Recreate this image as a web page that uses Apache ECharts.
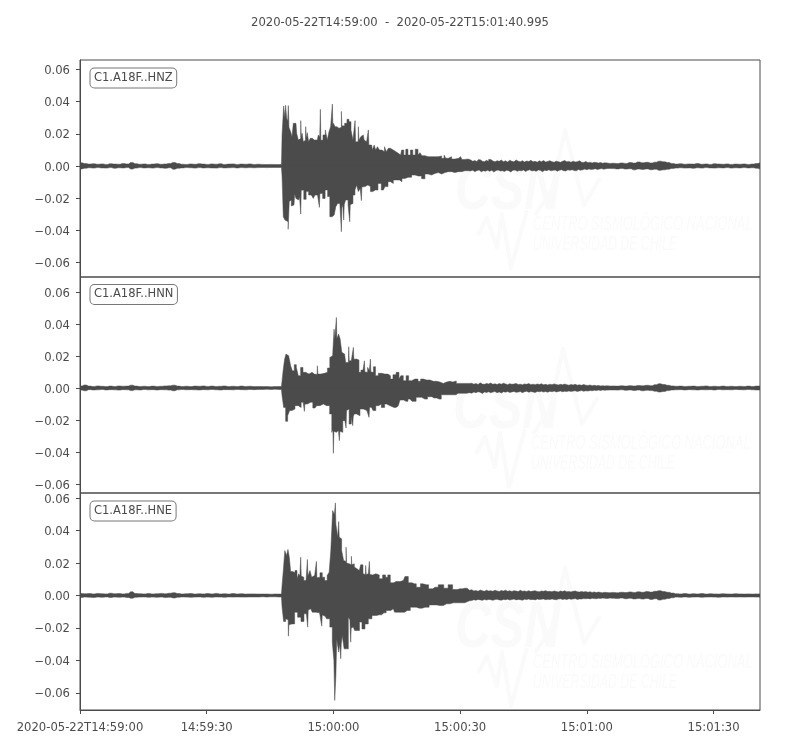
<!DOCTYPE html>
<html><head><meta charset="utf-8">
<style>html,body{margin:0;padding:0;background:#fff}#c{width:800px;height:750px}</style>
<script src="https://cdn.jsdelivr.net/npm/echarts@6/dist/echarts.min.js"></script>
</head><body><div id="c"></div>
<script>
const channels = ['C1.A18F..HNZ','C1.A18F..HNN','C1.A18F..HNE'];
const titleText = '2020-05-22T14:59:00  -  2020-05-22T15:01:40.995';
const xTickSeconds = [0,30,60,90,120,150];
const xTickLabels = ['2020-05-22T14:59:00','14:59:30','15:00:00','15:00:30','15:01:00','15:01:30'];
const yTicks = [-0.06,-0.04,-0.02,0,0.02,0.04,0.06];

// Amplitudes in thousandths. Quiet part: one reading a second from 0 s.
const hnzQuietTop = [2.0,1.5,1.2,1.4,1.1,1.3,1.0,1.4,1.2,1.1,1.5,1.3,2.1,1.4,1.1,1.3,1.0,1.2,1.4,1.1,1.3,1.6,2.2,1.5,1.1,1.0,1.3,1.1,1.4,1.2,1.0,1.3,1.1,1.4,1.0,1.2,1.3,1.0,1.2,1.1,1.3,1.0,1.1,1.0,0.9,1.0,0.9,0.9];
const hnzQuietBot = [-1.8,-1.4,-1.1,-1.3,-1.0,-1.2,-1.3,-1.0,-1.4,-1.1,-1.2,-1.0,-1.9,-1.3,-1.0,-1.2,-1.1,-1.3,-1.0,-1.2,-1.4,-1.1,-2.0,-1.4,-1.2,-1.0,-1.1,-1.3,-1.0,-1.2,-1.1,-1.2,-1.3,-1.0,-1.2,-1.1,-1.0,-1.2,-1.0,-1.1,-1.0,-1.1,-1.0,-0.9,-1.0,-0.9,-0.9,-0.9];
const hnnQuietTop = [1.3,1.9,1.2,1.0,1.3,1.1,0.9,1.2,1.0,1.3,1.1,1.2,1.8,1.2,1.0,1.1,0.9,1.2,1.0,1.1,1.3,1.4,1.8,1.2,1.0,1.1,0.9,1.2,1.1,1.3,1.0,1.2,1.0,1.1,1.3,0.9,1.1,1.0,1.2,1.0,1.1,0.9,1.0,0.9,0.9,0.8,0.9,0.9];
const hnnQuietBot = [-1.3,-1.7,-1.0,-1.2,-1.1,-0.9,-1.2,-1.0,-1.1,-1.3,-1.0,-1.1,-1.6,-1.1,-1.2,-0.9,-1.1,-1.0,-1.2,-1.0,-1.1,-1.3,-1.7,-1.1,-0.9,-1.1,-1.0,-1.1,-1.2,-1.0,-1.1,-0.9,-1.1,-1.2,-1.0,-1.0,-1.1,-0.9,-1.0,-1.1,-0.9,-1.0,-0.9,-0.9,-0.8,-0.9,-0.8,-0.9];
const hneQuietTop = [1.3,1.1,1.2,1.0,1.3,1.1,1.0,1.4,1.1,1.2,1.0,1.3,2.3,1.2,1.1,1.0,1.2,1.0,1.1,1.3,1.1,1.4,1.7,1.2,1.0,1.1,1.2,0.9,1.1,1.0,1.2,1.0,1.3,1.0,1.1,0.9,1.2,1.0,1.1,0.9,1.0,1.0,0.9,0.9,0.9,0.8,0.9,0.9];
const hneQuietBot = [-1.2,-1.0,-1.1,-1.2,-1.0,-1.1,-0.9,-1.2,-1.0,-1.1,-1.0,-1.2,-1.7,-1.1,-1.0,-0.9,-1.1,-1.0,-1.1,-1.0,-1.2,-1.1,-1.5,-1.1,-0.9,-1.0,-1.1,-1.0,-0.9,-1.1,-1.0,-1.1,-0.9,-1.0,-1.1,-0.9,-1.0,-0.9,-1.0,-1.0,-0.9,-0.9,-0.9,-0.8,-0.9,-0.8,-0.8,-0.9];

// Strong motion: [seconds, amplitude]
const hnzEventTop = [[47.7,0.9],[47.98,19.3],[48.45,37.3],[48.6,30],[48.77,37.7],[49.08,29.6],[49.25,28],[49.4,37.5],[49.55,24],[49.71,23.4],[50.03,21.3],[50.35,18.2],[50.66,26.5],[51.13,26.5],[51.45,20.3],[51.92,16.1],[52.2,17],[52.32,28.2],[52.45,18],[52.71,20.3],[53.03,15.1],[53.38,16],[53.5,24.4],[53.62,17],[53.97,20.7],[54.29,15.1],[54.76,17.2],[55.24,16.1],[55.71,17.2],[56.18,16.1],[56.66,19.3],[56.85,18],[56.97,35.2],[57.09,16],[57.29,16.1],[57.76,19.3],[58.39,22.4],[58.71,16.1],[59.18,21.3],[59.5,24.4],[59.69,24],[59.81,38.5],[59.93,25],[60.13,26.5],[60.6,24.4],[61.08,23.4],[61.55,24.4],[61.82,24],[61.94,33.9],[62.06,25],[62.34,24.8],[62.97,26.5],[63.44,29],[63.92,27.5],[64.39,22.4],[64.86,16.1],[65.06,16],[65.18,28.2],[65.3,15],[65.65,15.1],[65.85,15],[65.97,24.4],[66.09,16],[66.28,16.1],[66.68,18.2],[67.07,19.3],[67.47,16.1],[67.86,15.1],[68.21,14],[68.33,22.4],[68.45,13],[68.65,12],[69.04,13],[69.44,9.9],[69.83,13],[70.23,9.9],[70.62,12],[71.17,9.9],[71.81,8.9],[72.36,12],[72.75,8.9],[73.23,11],[73.7,11],[74.17,9.9],[74.8,8.9],[75.36,7.9],[75.91,6.8],[76.38,9.9],[76.93,6.8],[77.33,10.4],[77.96,6.8],[78.51,9.9],[79.06,6.8],[79.7,10.4],[80.33,6.8],[80.64,8.3],[81.27,6.4],[82.06,5.8],[82.85,5.8],[83.64,5.8],[84.43,5.8],[85.22,6.2],[86.01,4.8],[86.4,6.8],[86.8,4.8],[87.59,5.8],[88.38,4.3],[89.16,4.8],[90.11,5.8],[90.74,4.1],[91.53,4.3],[92.2,3.7]];
const hnzEventBot = [[47.7,-0.9],[47.98,-6.6],[48.29,-31.5],[48.77,-33.5],[49.08,-34.6],[49.48,-39.3],[49.6,-22],[49.87,-21.1],[50.19,-24.8],[50.66,-24.2],[50.98,-17.4],[51.29,-20.1],[51.77,-21.1],[52.2,-19],[52.32,-29.8],[52.44,-15],[52.71,-14.9],[53.26,-20.7],[53.82,-15.9],[54.45,-18],[55.08,-17],[55.39,-20.1],[55.87,-18],[56.62,-18],[56.74,-25.7],[56.86,-17],[57.21,-17],[57.68,-20.1],[58.39,-14.9],[58.87,-19],[59.42,-31.5],[59.97,-30.4],[60.37,-31.5],[60.76,-25.3],[61.23,-23.2],[61.82,-24],[61.94,-40.8],[62.06,-26],[62.38,-24],[62.5,-33.5],[62.62,-24],[63.13,-21.1],[63.8,-24],[63.92,-34.6],[64.04,-24],[64.39,-23.2],[64.86,-18],[65.34,-14.9],[65.65,-11.8],[66.13,-15.9],[66.56,-14],[66.68,-21.5],[66.8,-13],[67.07,-12.8],[67.86,-11.8],[68.49,-12.8],[69.04,-15.9],[69.6,-14.9],[70.23,-14.9],[70.86,-10.8],[71.81,-14.9],[72.6,-12.8],[73.23,-9.7],[73.78,-10.8],[74.57,-8.7],[75.36,-8.7],[75.91,-9.7],[76.54,-7.7],[77.33,-7],[78.12,-7],[78.91,-5.6],[79.7,-6.2],[80.49,-6.2],[81.27,-7.9],[82.06,-5],[82.85,-5.6],[83.64,-4.6],[84.43,-4.1],[85.22,-5],[86.01,-4.1],[86.8,-3.5],[87.59,-3.5],[88.38,-4.1],[89.16,-3.5],[89.95,-3.5],[90.74,-2.9],[91.53,-2.9],[92.2,-2.7]];
const hnnEventTop = [[47.7,0.9],[47.98,4.6],[48.29,11.9],[48.61,18.1],[48.93,21.2],[49.4,20.2],[49.71,19.6],[50.03,13.9],[50.5,10.8],[50.98,14.6],[51.45,12.9],[51.92,7.7],[52.55,12.9],[53.03,9.8],[53.82,8.7],[54.61,9.8],[55.24,8.7],[55.71,8.3],[56.14,8.5],[56.26,13.9],[56.38,8.7],[56.66,8.7],[57.45,9.2],[58.24,9.8],[58.95,12.5],[59.34,19.1],[59.81,20.2],[60.09,21],[60.21,36.8],[60.45,30.6],[60.64,30],[60.76,44.1],[60.88,31],[61.08,31.6],[61.39,33.7],[61.79,30.6],[62.18,22.3],[62.65,21.2],[63.13,16],[63.56,16],[63.68,25.8],[63.8,17],[64.23,17],[64.66,17],[64.78,25.4],[64.9,18],[65.18,18.1],[65.81,17.5],[66.28,9.8],[66.76,11.2],[67.27,10],[67.39,17],[67.51,10],[67.86,9.8],[68.33,12.9],[68.69,11],[68.81,18.1],[68.93,10],[69.28,9.8],[69.68,13.3],[70.23,7.7],[71.02,9.2],[71.81,8.7],[72.6,8.7],[73.23,7.7],[73.78,5.6],[74.41,8.3],[75.28,9.8],[75.75,5.6],[76.15,7.7],[76.93,4.6],[77.49,7.7],[78.12,4.6],[78.91,5.6],[79.7,5.6],[80.33,4.2],[80.96,5.6],[81.67,5],[82.46,5],[83.25,4.2],[84.04,4.2],[84.83,3.7],[85.61,2.9],[86.4,3.7],[87.19,4.2],[87.98,3.7],[88.61,4.4],[89.56,2.9],[90.74,2.9],[92.2,2.9]];
const hnnEventBot = [[47.7,-0.9],[47.98,-4.8],[48.45,-12.1],[48.93,-20.8],[49.4,-17.3],[49.87,-14.1],[50.5,-13.1],[51.29,-11],[52.08,-12.1],[52.63,-8.9],[53.06,-9],[53.18,-14.6],[53.3,-10],[53.82,-10],[54.61,-8.9],[55.63,-12.5],[56.42,-11],[57.21,-10],[58,-11],[58.79,-11],[59.42,-16.2],[59.81,-27.7],[59.93,-26],[60.05,-40.8],[60.17,-27],[60.37,-27.7],[61,-26.6],[61.35,-27],[61.47,-32.9],[61.59,-27],[61.94,-27.7],[62.5,-20.4],[62.93,-20],[63.05,-25],[63.17,-14],[63.52,-13.1],[63.92,-22.5],[64.51,-18],[64.63,-23.5],[64.75,-18],[65.1,-16.2],[65.89,-17.3],[66.68,-13.1],[67.47,-14.1],[68.37,-13],[68.49,-18.3],[68.61,-12],[69.04,-12.1],[69.68,-14.1],[70.39,-11],[71.02,-10],[71.65,-12.1],[72.6,-10],[73.39,-11],[74.33,-12.1],[75.36,-11],[76.15,-7.5],[77.17,-8.3],[78.12,-6.9],[79.06,-8.3],[80.09,-5.8],[81.67,-6.9],[82.85,-5.4],[83.8,-6.2],[85.06,-6.9],[86.01,-4.2],[87.19,-4.2],[88.38,-4.2],[89.56,-3.3],[90.74,-3.3],[92.2,-2.9]];
const hneEventTop = [[47.7,0.9],[47.98,6.2],[48.29,15.4],[48.69,27.7],[49.08,24.7],[49.4,28.4],[49.71,23.6],[50.03,14.8],[50.66,14],[51.13,15.4],[51.61,10.3],[51.92,13.4],[52.2,12],[52.32,23.6],[52.44,12],[52.71,11.3],[53.26,9.2],[53.78,10],[53.9,22.2],[54.02,12],[54.29,12.3],[54.61,15.4],[55.08,11.3],[55.55,12.3],[55.91,12],[56.03,21],[56.15,11],[56.5,11.3],[57.13,14],[57.6,11.3],[58.24,9.2],[58.79,12.3],[59.18,14.4],[59.58,27.7],[60.05,52.4],[60.4,50],[60.52,57.1],[60.64,44],[60.84,41.1],[61.19,36],[61.31,45.6],[61.43,36],[61.71,34.9],[62.18,27.7],[62.65,21.6],[62.93,21],[63.05,29.8],[63.17,20],[63.52,19.5],[63.92,19.5],[64.19,19],[64.31,24.2],[64.43,19],[64.71,19.5],[65.18,17.5],[65.65,16.4],[66.13,15.4],[66.76,18.9],[67.23,13.4],[67.58,13],[67.7,18.5],[67.82,13],[68.1,13.4],[68.45,13],[68.57,21],[68.69,13],[69.04,12.7],[69.6,13.4],[70.46,12.7],[71.25,10.3],[72.04,12.7],[72.6,11.3],[73.15,12.7],[73.78,7.8],[74.8,8.6],[75.75,8.6],[76.54,9.2],[77.33,11.7],[78.12,7.8],[79.14,7.2],[80.09,5.1],[81.12,7.2],[82.06,6.6],[83.01,4.1],[84.04,5.1],[85.61,6.6],[86.64,4.5],[87.67,6.6],[88.77,3.7],[89.95,4.1],[91.14,4.5],[92.2,3.3]];
const hneEventBot = [[47.7,-0.9],[47.98,-7.2],[48.45,-16],[48.93,-14.4],[49.28,-15],[49.4,-25.1],[49.52,-18],[49.87,-17.5],[50.5,-17.5],[51.13,-10.3],[51.92,-13.4],[52.71,-16],[53.34,-11.3],[53.85,-11],[53.97,-19.5],[54.09,-9],[54.61,-8.2],[55.39,-10.3],[56.26,-10.7],[57.17,-11],[57.29,-18.9],[57.41,-12],[58,-12.7],[58.79,-14.4],[59.5,-19.5],[59.97,-28.8],[60.25,-40],[60.37,-64.7],[60.49,-58],[60.68,-49.3],[60.88,-27],[61.08,-26.7],[61.39,-34.9],[61.67,-30],[61.79,-39],[61.91,-30],[62.26,-24.7],[62.81,-32.9],[63.29,-32.9],[63.76,-13.4],[64.03,-15],[64.15,-28.8],[64.27,-20],[64.71,-19.5],[65.34,-21.6],[65.89,-21.6],[66.44,-16.4],[67.07,-20.6],[67.86,-17.5],[68.65,-14.4],[69.6,-12.3],[70.86,-11.9],[71.96,-10.7],[73,-9.2],[74.17,-8.2],[74.8,-10.3],[76.15,-10.3],[77.49,-9.2],[78.91,-7.2],[80.33,-7.8],[81.67,-7.2],[83.64,-5.8],[85.22,-6.2],[86.8,-5.1],[88.38,-4.5],[89.95,-4.5],[92.2,-3.3]];

// Coda: a reading every half second from 92.5 s to 125 s
const hnzCodaTop = [3.8,2.9,3.4,2.6,3.9,3.0,2.7,3.5,2.8,4.1,3.1,2.6,3.3,2.9,3.7,2.7,3.2,2.5,3.6,2.9,2.6,3.8,3.0,2.7,3.3,2.5,3.1,2.8,3.5,2.6,2.9,2.4,3.2,2.7,3.4,2.5,2.8,3.3,2.6,2.4,3.0,2.7,2.3,2.9,3.4,2.6,2.8,2.3,3.0,2.5,2.7,3.2,2.4,2.2,2.8,2.0,2.4,1.9,2.3,2.1,1.8,2.2,1.7,2.0,1.9,1.6];
const hnzCodaBot = [-3.1,-2.6,-3.5,-2.8,-2.5,-3.6,-2.9,-3.2,-2.6,-3.3,-2.7,-3.8,-2.8,-2.5,-3.1,-2.9,-3.4,-2.6,-2.9,-3.7,-2.7,-2.5,-3.2,-2.8,-3.0,-2.5,-3.4,-2.7,-2.4,-3.1,-2.8,-3.3,-2.5,-2.7,-3.6,-2.6,-2.9,-2.4,-3.0,-2.7,-2.5,-3.2,-2.6,-2.3,-2.9,-3.1,-2.4,-2.7,-2.3,-2.8,-3.0,-2.2,-2.6,-2.4,-1.9,-2.3,-1.8,-2.1,-2.0,-1.7,-2.2,-1.8,-1.6,-2.0,-1.7,-1.5];
const hnnCodaTop = [3.0,2.4,2.8,2.2,3.3,2.5,2.3,2.9,2.6,3.1,2.3,2.7,2.2,2.8,2.4,3.0,2.5,2.1,2.7,2.3,2.5,2.9,2.2,2.4,2.0,2.6,2.3,2.8,2.1,2.4,2.0,2.5,2.2,2.7,2.0,2.3,1.9,2.4,2.1,2.6,2.2,1.9,2.3,2.0,2.5,2.1,1.8,2.2,1.9,2.3,1.8,2.0,1.7,2.2,1.8,1.6,1.9,1.5,1.7,1.4,1.6,1.3,1.5,1.3,1.4,1.2];
const hnnCodaBot = [-3.2,-2.5,-2.9,-2.3,-2.6,-3.4,-2.4,-2.8,-2.3,-3.0,-2.5,-2.2,-2.9,-2.4,-3.1,-2.3,-2.6,-2.2,-2.8,-2.4,-2.1,-2.7,-2.5,-2.2,-2.9,-2.3,-2.0,-2.6,-2.2,-2.4,-2.8,-2.1,-2.3,-2.0,-2.5,-2.2,-2.6,-2.0,-2.3,-1.9,-2.4,-2.1,-1.9,-2.3,-2.0,-2.2,-1.8,-2.1,-1.9,-1.7,-2.2,-1.8,-1.6,-2.0,-1.7,-1.9,-1.5,-1.7,-1.4,-1.6,-1.3,-1.5,-1.2,-1.4,-1.3,-1.2];
const hneCodaTop = [3.5,2.8,3.1,2.6,3.4,2.9,2.6,3.3,2.7,3.0,2.6,3.2,2.8,2.5,3.1,2.7,3.3,2.6,2.9,2.5,3.0,2.7,2.4,3.2,2.6,2.8,2.5,3.0,2.4,2.7,2.9,2.5,2.3,2.8,2.6,3.0,2.4,2.6,2.3,2.8,2.5,2.2,2.7,2.4,2.9,2.3,2.5,2.2,2.6,2.8,2.3,2.1,2.5,2.2,2.4,2.0,2.3,1.9,2.2,1.8,2.1,1.9,1.7,2.0,1.8,1.7];
const hneCodaBot = [-3.1,-2.6,-2.9,-2.4,-2.7,-3.0,-2.5,-2.8,-2.4,-2.6,-3.0,-2.5,-2.3,-2.7,-2.9,-2.4,-2.6,-2.3,-2.8,-2.5,-2.2,-2.7,-2.4,-2.6,-2.9,-2.3,-2.5,-2.2,-2.6,-2.4,-2.7,-2.2,-2.5,-2.3,-2.1,-2.6,-2.3,-2.5,-2.1,-2.4,-2.6,-2.2,-2.0,-2.4,-2.2,-2.5,-2.0,-2.3,-2.1,-1.9,-2.4,-2.1,-2.2,-1.9,-2.0,-1.8,-2.1,-1.7,-1.9,-2.0,-1.7,-1.8,-1.6,-1.7,-1.9,-1.6];

// Late part: one reading a second from 126 s to 160 s, then the last sample
const hnzLateTop = [1.7,1.5,1.9,1.6,2.1,1.8,2.5,2.0,2.3,1.9,2.4,3.0,2.6,2.2,1.6,1.2,1.4,1.1,1.3,1.2,1.5,1.1,1.3,1.0,1.4,1.2,1.1,1.3,1.0,1.2,1.1,1.3,1.0,1.2,1.5,2.0];
const hnzLateBot = [-1.6,-1.8,-1.5,-1.9,-1.7,-2.4,-1.9,-2.1,-1.8,-2.3,-2.0,-2.7,-2.4,-2.0,-1.5,-1.3,-1.1,-1.3,-1.2,-1.4,-1.1,-1.3,-1.0,-1.2,-1.3,-1.1,-1.2,-1.0,-1.3,-1.1,-1.2,-1.0,-1.2,-1.1,-1.4,-1.9];
const hnnLateTop = [1.3,1.2,1.4,1.2,1.5,1.3,1.6,1.4,1.7,1.5,2.1,2.7,2.2,1.7,1.3,1.1,1.2,1.0,1.1,1.2,1.0,1.1,1.3,1.0,1.1,1.0,1.2,1.0,1.1,0.9,1.1,1.0,1.2,1.0,1.2,1.2];
const hnnLateBot = [-1.2,-1.3,-1.1,-1.4,-1.2,-1.5,-1.3,-1.7,-1.4,-1.6,-2.0,-2.5,-2.1,-1.6,-1.2,-1.1,-1.0,-1.2,-1.0,-1.1,-1.2,-1.0,-1.1,-1.0,-1.2,-0.9,-1.1,-1.0,-1.1,-0.9,-1.0,-1.1,-0.9,-1.1,-1.2,-1.2];
const hneLateTop = [1.9,1.7,2.0,1.8,2.2,1.9,2.3,2.0,2.4,2.1,2.6,3.0,2.4,2.0,1.5,1.1,1.0,1.2,0.9,1.1,1.0,1.2,0.9,1.1,1.0,0.9,1.1,1.0,0.9,1.1,1.0,0.9,1.0,0.9,1.0,1.0];
const hneLateBot = [-1.7,-1.9,-1.6,-2.0,-1.7,-2.1,-1.9,-2.2,-1.8,-2.4,-2.0,-2.8,-2.3,-1.9,-1.4,-1.0,-1.1,-0.9,-1.1,-1.0,-0.9,-1.1,-1.0,-0.9,-1.0,-1.1,-0.9,-1.0,-0.9,-1.0,-0.9,-1.0,-0.9,-0.9,-1.0,-1.0];

function assemble(quiet, event, coda, late){
  const out = [];
  quiet.forEach((v,i)=>out.push([i,v]));
  event.forEach(p=>out.push(p));
  coda.forEach((v,i)=>out.push([92.5+i*0.5,v]));
  late.forEach((v,i)=>out.push([i===late.length-1?160.995:126+i,v]));
  return out;
}
const traces = [
  [assemble(hnzQuietTop,hnzEventTop,hnzCodaTop,hnzLateTop),assemble(hnzQuietBot,hnzEventBot,hnzCodaBot,hnzLateBot)],
  [assemble(hnnQuietTop,hnnEventTop,hnnCodaTop,hnnLateTop),assemble(hnnQuietBot,hnnEventBot,hnnCodaBot,hnnLateBot)],
  [assemble(hneQuietTop,hneEventTop,hneCodaTop,hneLateTop),assemble(hneQuietBot,hneEventBot,hneCodaBot,hneLateBot)]
];
const yRanges = [[-0.0689,0.0658],[-0.0656,0.0694],[-0.0706,0.0632]];
const panels = [{top:60,height:217},{top:277,height:216},{top:493,height:217}];
const ink = '#4b4b4b';
const font = '"DejaVu Sans"';
const mark = '#fafafa';

const fmtY = v => '{v|' + (v < 0 ? '\u2212' : '') + Math.abs(v).toFixed(2) + '}';

function watermark(dx, dy){
  const pl = pts => pts.map(p => [p[0]+dx, p[1]+dy]);
  return [
    {type:'polyline',silent:true,z:0,shape:{points:pl([[535,215],[552,190],[565,130],[584,205],[600,178]])},style:{stroke:mark,fill:null,lineWidth:4,lineJoin:'round'}},
    {type:'polyline',silent:true,z:0,shape:{points:pl([[478,235],[487,218],[497,248],[502,214],[511,268],[527,210]])},style:{stroke:mark,fill:null,lineWidth:4,lineJoin:'round'}},
    {type:'text',silent:true,z:0,x:455+dx,y:159+dy,scaleX:0.78,style:{text:'CSN',fill:mark,font:'italic bold 64px "Liberation Sans"'}},
    {type:'text',silent:true,z:0,x:533+dx,y:214+dy,scaleX:0.615,style:{text:'CENTRO SISMOL\u00d3GICO NACIONAL',fill:mark,font:'italic 21px "Liberation Sans"'}},
    {type:'text',silent:true,z:0,x:533+dx,y:234+dy,scaleX:0.585,style:{text:'UNIVERSIDAD DE CHILE',fill:mark,font:'italic 21px "Liberation Sans"'}}
  ];
}
function tag(text, y){
  return {type:'text',silent:true,z:5,x:90.5,y:y,style:{text:text,fill:ink,font:'11.5px '+font,backgroundColor:'#fff',borderColor:'#777',borderWidth:1,borderRadius:4,padding:[3.5,3.5,3.5,3.5]}};
}

const option = {
  animation:false,
  backgroundColor:'#fff',
  title:{text:titleText,left:'center',top:12,textStyle:{color:ink,fontSize:11.6,fontWeight:'normal',fontFamily:font}},
  graphic:{elements:[].concat(watermark(0,0),watermark(-2,219),watermark(0,438),[tag(channels[0],68.5),tag(channels[1],285),tag(channels[2],501.5)])},
  grid:panels.map(p=>({left:80,width:680,top:p.top,height:p.height,show:true,borderColor:ink,borderWidth:1,backgroundColor:'transparent',containLabel:false})),
  xAxis:panels.map((p,i)=>({gridIndex:i,type:'value',min:0,max:160.995,splitLine:{show:false},
    axisLine:{show:i===2,onZero:false,lineStyle:{color:ink}},
    axisTick:{show:i===2,length:4,customValues:xTickSeconds,lineStyle:{color:ink}},
    axisLabel:{show:i===2,customValues:xTickSeconds,margin:12,color:ink,fontSize:11.6,fontFamily:font,
      formatter:v=>xTickLabels[xTickSeconds.indexOf(v)]||''}})),
  yAxis:panels.map((p,i)=>({gridIndex:i,type:'value',min:yRanges[i][0],max:yRanges[i][1],splitLine:{show:false},
    axisLine:{show:true,onZero:false,lineStyle:{color:ink}},
    axisTick:{show:true,length:4,customValues:yTicks,lineStyle:{color:ink}},
    axisLabel:{show:true,customValues:yTicks,margin:10,color:ink,fontSize:11.6,fontFamily:font,formatter:fmtY,
      rich:{v:{color:ink,fontSize:11.6,fontFamily:font,padding:[3,0,0,0]}}}})),
  series:[]
};
traces.forEach((pair,i)=>pair.forEach((tr,j)=>{
  option.series.push({type:'line',xAxisIndex:i,yAxisIndex:i,step:'middle',showSymbol:false,silent:true,z:2,clip:true,
    lineStyle:{color:ink,width:0.5},areaStyle:{color:ink,opacity:1,origin:j===0?-0.0005:0.0005},itemStyle:{color:ink},
    data:tr.map(d=>[d[0],d[1]/1000])});
}));
echarts.init(document.getElementById('c'),null,{renderer:'canvas'}).setOption(option);
</script></body></html>
